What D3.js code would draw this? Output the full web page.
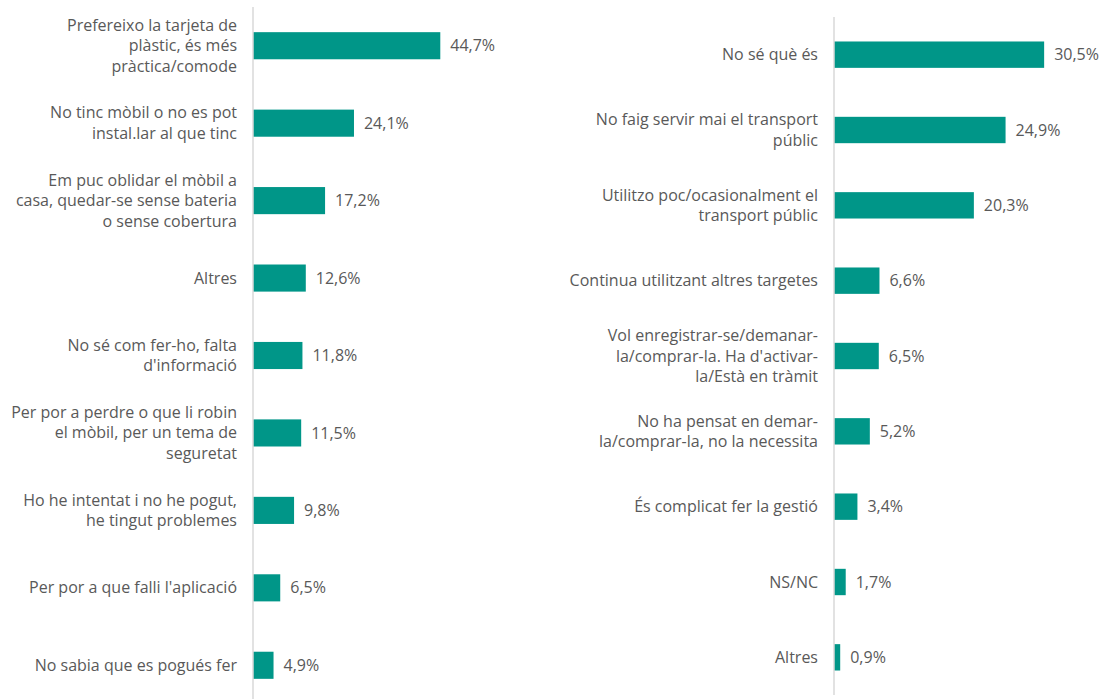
<!DOCTYPE html>
<html>
<head>
<meta charset="utf-8">
<style>
 body{
     margin: 0;
     background: #fff;
 }
 svg{
     font-family: "Open Sans", "Noto Sans", sans-serif;
     font-size: 16px;
 }
 .label, .value{
     fill: #595959;
 }
 .bar{
     fill: #009688;
 }
 .axis-line{
     stroke: #d9d9d9;
     stroke-width: 1.5px;
 }
</style>
</head>
<body>
<svg width="1107" height="699"></svg>
<script src="https://d3js.org/d3.v7.min.js"></script>
<script>

// left panel: reasons for not using the mobile app
var leftLabels = [
    "Prefereixo la tarjeta de\nplàstic, és més\npràctica/comode",
    "No tinc mòbil o no es pot\ninstal.lar al que tinc",
    "Em puc oblidar el mòbil a\ncasa, quedar-se sense bateria\no sense cobertura",
    "Altres",
    "No sé com fer-ho, falta\nd'informació",
    "Per por a perdre o que li robin\nel mòbil, per un tema de\nseguretat",
    "Ho he intentat i no he pogut,\nhe tingut problemes",
    "Per por a que falli l'aplicació",
    "No sabia que es pogués fer"
];
var leftValues = [44.7, 24.1, 17.2, 12.6, 11.8, 11.5, 9.8, 6.5, 4.9];

// right panel
var rightLabels = [
    "No sé què és",
    "No faig servir mai el transport\npúblic",
    "Utilitzo poc/ocasionalment el\ntransport públic",
    "Continua utilitzant altres targetes",
    "Vol enregistrar-se/demanar-\nla/comprar-la. Ha d'activar-\nla/Està en tràmit",
    "No ha pensat en demar-\nla/comprar-la, no la necessita",
    "És complicat fer la gestió",
    "NS/NC",
    "Altres"
];
var rightValues = [30.5, 24.9, 20.3, 6.6, 6.5, 5.2, 3.4, 1.7, 0.9];

var svg = d3.select("svg");
var fmt = d3.formatLocale({decimal: ",", thousands: ".", grouping: [3], currency: ["", "€"]}).format(".1f");

function panel(labels, values, opt){
    var data = labels.map(function(l, i){ return {label: l, value: values[i]}; });

    var x = d3.scaleLinear()
        .domain([0, opt.max])
        .range([opt.x0, opt.x1]);
    var y = d3.scaleBand()
        .domain(d3.range(data.length))
        .range([opt.y0, opt.y1])
        .paddingInner(0.65)
        .paddingOuter(0.325);

    var g = svg.append("g");

    g.selectAll(".bar")
        .data(data)
        .enter().append("rect")
        .attr("class", "bar")
        .attr("x", x(0))
        .attr("y", function(d, i){ return y(i); })
        .attr("width", function(d){ return x(d.value) - x(0); })
        .attr("height", y.bandwidth());

    g.selectAll(".value")
        .data(data)
        .enter().append("text")
        .attr("class", "value")
        .attr("x", function(d){ return x(d.value) + 10; })
        .attr("y", function(d, i){ return y(i) + y.bandwidth() / 2; })
        .attr("dy", "0.35em")
        .text(function(d){ return fmt(d.value) + "%"; });

    var lineH = 20.5;
    var lab = g.selectAll(".label")
        .data(data)
        .enter().append("text")
        .attr("class", "label")
        .attr("text-anchor", "end")
        .attr("x", x(0) - 16)
        .attr("y", function(d, i){ return y(i) + y.bandwidth() / 2 + 5.5; });
    lab.each(function(d){
        var lines = d.label.split("\n");
        var t = d3.select(this);
        lines.forEach(function(s, k){
            t.append("tspan")
                .attr("x", x(0) - 16)
                .attr("dy", k == 0 ? -(lines.length - 1) / 2 * lineH : lineH)
                .text(s);
        });
    });

    // vertical axis line
    g.append("line")
        .attr("class", "axis-line")
        .attr("x1", x(0)).attr("x2", x(0))
        .attr("y1", opt.y0).attr("y2", opt.y1);
}

panel(leftLabels, leftValues, {max: 50, x0: 253, x1: 253 + 50 * 4.19, y0: 7, y1: 704});
panel(rightLabels, rightValues, {max: 35, x0: 834, x1: 834 + 35 * 6.89, y0: 17, y1: 695});

</script>
</body>
</html>
